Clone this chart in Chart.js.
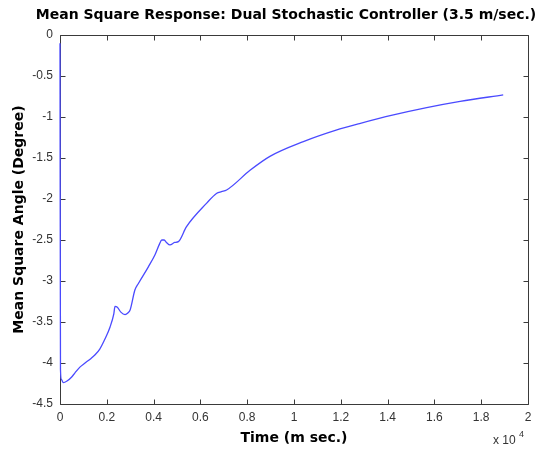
<!DOCTYPE html>
<html>
<head>
<meta charset="utf-8">
<script src="https://cdn.jsdelivr.net/npm/chart.js@4"></script>
<style>
html,body{margin:0;padding:0;background:#fff;}
#wrap{width:554px;height:450px;}
</style>
</head>
<body>
<div id="wrap"><canvas id="c" width="554" height="450"></canvas></div>
<script>
// Time in milliseconds
const timeMs = [0, 20, 60, 140, 300, 500, 640, 850, 1070, 1300, 1500, 1700, 1900, 2140, 2300, 2350, 2450, 2600, 2780, 2900, 3000, 3200, 3350, 3770, 4060, 4250, 4350, 4450, 4550, 4700, 4900, 5060, 5400, 6270, 6700, 6900, 7120, 8120, 8970, 10400, 11800, 12800, 14250, 15670, 17100, 18940];
// Mean square angle (degree)
const meanSquareAngle = [-0.1, -4.08, -4.2, -4.24, -4.22, -4.17, -4.12, -4.05, -4.0, -3.95, -3.9, -3.83, -3.72, -3.56, -3.4, -3.31, -3.32, -3.38, -3.41, -3.39, -3.35, -3.11, -3.03, -2.83, -2.68, -2.55, -2.5, -2.5, -2.53, -2.56, -2.53, -2.52, -2.34, -2.05, -1.93, -1.91, -1.89, -1.65, -1.48, -1.3, -1.16, -1.08, -0.975, -0.886, -0.81, -0.73];
const xTickValues = [0, 2000, 4000, 6000, 8000, 10000, 12000, 14000, 16000, 18000, 20000];
const yTickValues = [0, -0.5, -1, -1.5, -2, -2.5, -3, -3.5, -4, -4.5];

const titleText = 'Mean Square Response: Dual Stochastic Controller (3.5 m/sec.)';
const xTitle = 'Time (m sec.)';
const yTitle = 'Mean Square Angle (Degree)';

const FONT = '"Liberation Sans", Arial, sans-serif';
const BOLD = '"DejaVu Sans", "Liberation Sans", sans-serif';

const framePlugin = {
  id: 'frame',
  beforeDatasetsDraw(chart) {
    const ctx = chart.ctx, a = chart.chartArea;
    const xs = chart.scales.x, ys = chart.scales.y;
    ctx.save();
    ctx.strokeStyle = '#3a3a3a';
    ctx.lineWidth = 1;
    ctx.beginPath();
    const L = Math.round(a.left) + 0.5, R = Math.round(a.right) + 0.5;
    const T = Math.round(a.top) + 0.5, B = Math.round(a.bottom) + 0.5;
    ctx.rect(L, T, R - L, B - T);
    const tl = 5;
    xs.ticks.forEach(t => {
      const x = Math.round(xs.getPixelForValue(t.value)) + 0.5;
      ctx.moveTo(x, B); ctx.lineTo(x, B - tl);
      ctx.moveTo(x, T); ctx.lineTo(x, T + tl);
    });
    ys.ticks.forEach(t => {
      const y = Math.round(ys.getPixelForValue(t.value)) + 0.5;
      ctx.moveTo(L, y); ctx.lineTo(L + tl, y);
      ctx.moveTo(R, y); ctx.lineTo(R - tl, y);
    });
    ctx.stroke();
    ctx.restore();
  },
  afterDraw(chart) {
    const ctx = chart.ctx;
    ctx.save();
    ctx.fillStyle = '#000';
    ctx.font = 'bold 14px ' + BOLD;
    ctx.textAlign = 'center';
    ctx.textBaseline = 'middle';
    ctx.fillText(titleText, 286, 15);
    ctx.fillStyle = '#333';
    ctx.font = '12px ' + FONT;
    ctx.textAlign = 'left';
    ctx.textBaseline = 'alphabetic';
    ctx.fillText('x 10', 493, 444);
    ctx.font = '9px ' + FONT;
    ctx.fillText('4', 519, 437);
    ctx.restore();
  }
};

new Chart(document.getElementById('c'), {
  type: 'line',
  data: {
    datasets: [{
      data: timeMs.map((t, i) => ({x: t, y: meanSquareAngle[i]})),
      borderColor: '#4a4aff',
      borderWidth: 1.3,
      pointRadius: 0,
      fill: false,
      clip: 3,
      cubicInterpolationMode: 'monotone'
    }]
  },
  options: {
    responsive: false,
    animation: false,
    devicePixelRatio: 1,
    layout: {padding: {top: 35, right: 26, bottom: 0, left: 0}},
    plugins: {legend: {display: false}, title: {display: false}, tooltip: {enabled: false}},
    scales: {
      x: {
        type: 'linear', min: 0, max: 20000,
        afterBuildTicks: s => { s.ticks = xTickValues.map(v => ({value: v})); },
        afterFit: s => { s.height = 46; },
        grid: {display: false, drawTicks: false},
        border: {display: false},
        ticks: {
          padding: 6, color: '#333', font: {family: FONT, size: 12},
          maxRotation: 0, autoSkip: false,
          callback: v => String(Math.round(v / 1000) / 10)
        },
        title: {display: true, text: xTitle, color: '#000', font: {family: BOLD, size: 14, weight: 'bold'}, padding: {top: 0, bottom: 3}}
      },
      y: {
        type: 'linear', min: -4.5, max: 0,
        afterBuildTicks: s => { s.ticks = yTickValues.map(v => ({value: v})); },
        afterFit: s => { s.width = 60; },
        grid: {display: false, drawTicks: false},
        border: {display: false},
        ticks: {
          padding: 7, color: '#333', font: {family: FONT, size: 12},
          autoSkip: false,
          callback: v => String(v)
        },
        title: {display: true, text: yTitle, color: '#000', font: {family: BOLD, size: 14, weight: 'bold'}, padding: {top: 11, bottom: 0}}
      }
    }
  },
  plugins: [framePlugin]
});
</script>
</body>
</html>
